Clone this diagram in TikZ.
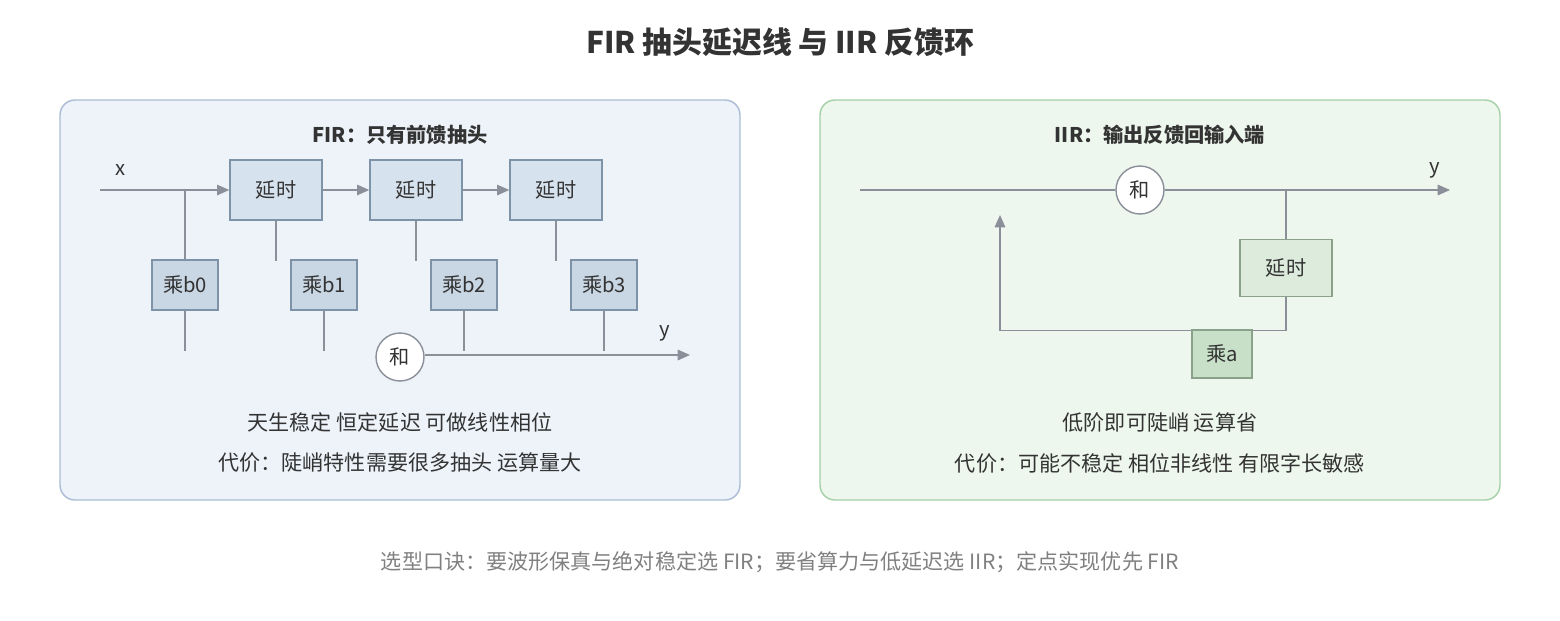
\documentclass[tikz,border=0pt]{standalone}
\usepackage{fontspec}
\setmainfont{Noto Sans CJK SC}
\usetikzlibrary{positioning, arrows.meta}
\definecolor{linegray}{HTML}{8A8F99}
\definecolor{txt}{HTML}{333333}
\definecolor{firbg}{HTML}{EEF3FA}
\definecolor{firbd}{HTML}{A9BCD3}
\definecolor{iirbg}{HTML}{EEF7EE}
\definecolor{iirbd}{HTML}{A5CFA5}
\definecolor{delfill}{HTML}{D6E2EE}
\definecolor{delbd}{HTML}{7F93A8}
\definecolor{mulfill}{HTML}{C9D6E3}
\definecolor{gdelfill}{HTML}{DCEBDC}
\definecolor{gbd}{HTML}{8AA28A}
\definecolor{gmulfill}{HTML}{C8E0C8}
\tikzset{
  every node/.style={align=center, text=txt, font=\fontsize{11.5pt}{13pt}\selectfont},
  arrow/.style={draw=linegray, thick, -{Triangle[length=7pt,width=6pt]}},
  wire/.style={draw=linegray, thick},
  delay/.style={rectangle, draw=delbd, fill=delfill, thick, minimum width=1.84cm, minimum height=1.2cm},
  mul/.style={rectangle, draw=delbd, fill=mulfill, thick, minimum width=1.32cm, minimum height=1cm},
  sum/.style={circle, draw=linegray, fill=white, thick, minimum size=0.96cm, inner sep=0pt},
  panel/.style={rectangle, rounded corners=0.3cm, thick},
  note/.style={font=\fontsize{12pt}{14pt}\selectfont}
}
\begin{document}
\begin{tikzpicture}[x=0.02cm, y=-0.02cm]
    \useasboundingbox (0,0) rectangle (1560,620);
    \node (title) at (780,42) {\fontsize{17pt}{19pt}\selectfont\bfseries FIR 抽头延迟线 与 IIR 反馈环};

    % FIR panel
    \draw [panel, fill=firbg, draw=firbd] (60,100) rectangle (740,500);
    \node (firt) at (400,135) {\bfseries FIR：只有前馈抽头};
    \coordinate (xin) at (100,190);
    \node (xl) at (121,170) {x};
    \node (d1) [delay] at (276,190) {延时};
    \node (d2) [delay] at (416,190) {延时};
    \node (d3) [delay] at (556,190) {延时};
    \draw [arrow] (xin) -- (d1.west);
    \draw [arrow] (d1) -- (d2);
    \draw [arrow] (d2) -- (d3);
    \node (m0) [mul] at (185,285) {乘b0};
    \node (m1) [mul] at (324,285) {乘b1};
    \node (m2) [mul] at (464,285) {乘b2};
    \node (m3) [mul] at (604,285) {乘b3};
    \coordinate (tap0) at (185,190);
    \draw [wire] (tap0) -- (m0.north);
    \draw [wire] (d1.south) -- ++(0,40);
    \draw [wire] (d2.south) -- ++(0,40);
    \draw [wire] (d3.south) -- ++(0,40);
    \foreach \m in {m0,m1,m2,m3} \draw [wire] (\m.south) -- ++(0,40);
    \node (s1) [sum] at (400,357) {和};
    \coordinate (yout1) at (690,355);
    \draw [arrow] (s1.east |- yout1) -- (yout1);
    \node (yl1) at (665,333) {y};
    \node (firn1) [note] at (400,422) {天生稳定 恒定延迟 可做线性相位};
    \node (firn2) [note] at (400,463) {代价：陡峭特性需要很多抽头 运算量大};

    % IIR panel
    \draw [panel, fill=iirbg, draw=iirbd] (820,100) rectangle (1500,500);
    \node (iirt) at (1160,135) {\bfseries IIR：输出反馈回输入端};
    \coordinate (xin2) at (860,190);
    \node (s2) [sum] at (1140,190) {和};
    \coordinate (yout2) at (1450,190);
    \node (yl2) at (1435,170) {y};
    \draw [wire] (xin2) -- (s2);
    \draw [arrow] (s2) -- (yout2);
    \node (d4) [delay, draw=gbd, fill=gdelfill, minimum height=1.14cm] at (1286,268) {延时};
    \coordinate (tap) at (1286,190);
    \draw [wire] (tap) -- (d4.north);
    \coordinate (fb) at (1000,215);
    \draw [arrow] (d4.south) -- ++(0,33) -| (fb);
    \node (ma) [mul, draw=gbd, fill=gmulfill, minimum width=1.2cm, minimum height=0.96cm] at (1222,354) {乘a};
    \node (iirn1) [note] at (1160,422) {低阶即可陡峭 运算省};
    \node (iirn2) [note] at (1160,463) {代价：可能不稳定 相位非线性 有限字长敏感};

    \node (foot) [note, text=gray] at (780,562) {选型口诀：要波形保真与绝对稳定选 FIR；要省算力与低延迟选 IIR；定点实现优先 FIR};
\end{tikzpicture}
\end{document}
